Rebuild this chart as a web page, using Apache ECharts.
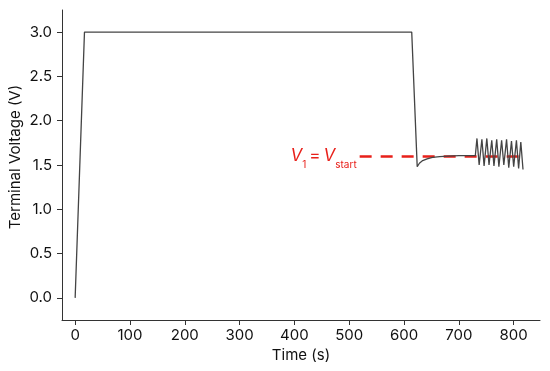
<!DOCTYPE html>
<html>
<head>
<meta charset="utf-8">
<script src="https://cdn.jsdelivr.net/npm/echarts@6/dist/echarts.min.js"></script>
<style>
  html, body { margin: 0; padding: 0; background: #fff; }
  #chart { width: 550px; height: 371px; }
</style>
</head>
<body>
<div id="chart"></div>
<script>
// terminal voltage trace (time s, voltage V)
const timeS = [0, 17, 614, 624, 628, 634, 642, 652, 665, 680, 700, 730,
  733, 737, 742, 746, 751, 755, 760, 764, 769, 773, 778, 782, 787, 791, 796, 800, 805, 809, 813, 817];
const voltageV = [0, 3.0, 3.0, 1.48, 1.52, 1.55, 1.57, 1.585, 1.595, 1.6, 1.605, 1.605,
  1.8, 1.5, 1.79, 1.49, 1.8, 1.5, 1.78, 1.49, 1.79, 1.48, 1.78, 1.5, 1.79, 1.47, 1.77, 1.48, 1.78, 1.46, 1.76, 1.45];
// reference line V1 = Vstart
const refStart = 519;
const refEnd = 825;
const refLevel = 1.6;
const xTicks = [0, 100, 200, 300, 400, 500, 600, 700, 800];
const yTicks = [0, 0.5, 1.0, 1.5, 2.0, 2.5, 3.0];

const chart = echarts.init(document.getElementById('chart'));
const font = 'Inter, "DejaVu Sans", sans-serif';
const axisCol = '#333';
const red = '#e8201a';

chart.setOption({
  animation: false,
  textStyle: { fontFamily: font },
  grid: { left: 62, right: 10, top: 10, bottom: 51, outerBoundsMode: 'none' },
  xAxis: {
    type: 'value',
    min: -24,
    max: 848,
    name: 'Time (s)',
    nameLocation: 'middle',
    nameGap: 27,
    nameTextStyle: { fontSize: 15, color: '#111', fontFamily: font },
    axisLine: { show: true, onZero: false, lineStyle: { color: axisCol, width: 1 } },
    axisTick: { show: true, customValues: xTicks, length: 5, lineStyle: { color: axisCol } },
    axisLabel: { customValues: xTicks, margin: 8, fontSize: 15, color: '#111', fontFamily: font },
    splitLine: { show: false }
  },
  yAxis: {
    type: 'value',
    min: -0.25,
    max: 3.25,
    name: 'Terminal Voltage (V)',
    nameLocation: 'middle',
    nameGap: 39,
    nameMoveOverlap: false,
    nameTextStyle: { fontSize: 15, color: '#111', fontFamily: font, padding: [0, 0, 0, 16] },
    axisLine: { show: true, onZero: false, lineStyle: { color: axisCol, width: 1 } },
    axisTick: { show: true, customValues: yTicks, length: 5, lineStyle: { color: axisCol } },
    axisLabel: {
      customValues: yTicks, margin: 10, fontSize: 15, color: '#111', fontFamily: font,
      formatter: (v) => v.toFixed(1)
    },
    splitLine: { show: false }
  },
  series: [
    {
      type: 'line',
      data: timeS.map((t, i) => [t, voltageV[i]]),
      showSymbol: false,
      lineStyle: { color: '#444', width: 1.3 },
      z: 3,
      markLine: {
        silent: true,
        symbol: 'none',
        z: 2,
        lineStyle: { color: red, width: 2.5, type: [12, 9] },
        label: {
          show: true,
          position: 'start',
          distance: 3,
          formatter: '{v|V}{s|1}{e|=}{v|V}{s|start}',
          rich: {
            v: { fontSize: 17, fontStyle: 'italic', color: red, fontFamily: font, lineHeight: 18, verticalAlign: 'top' },
            e: { fontSize: 17, color: red, fontFamily: font, lineHeight: 18, verticalAlign: 'top', padding: [0, 3, 0, 3] },
            s: { fontSize: 10, color: red, fontFamily: font, lineHeight: 10, padding: [13, 0, 0, 0], verticalAlign: 'top' }
          }
        },
        data: [[{ coord: [refStart, refLevel] }, { coord: [refEnd, refLevel] }]]
      }
    }
  ]
});
</script>
</body>
</html>
